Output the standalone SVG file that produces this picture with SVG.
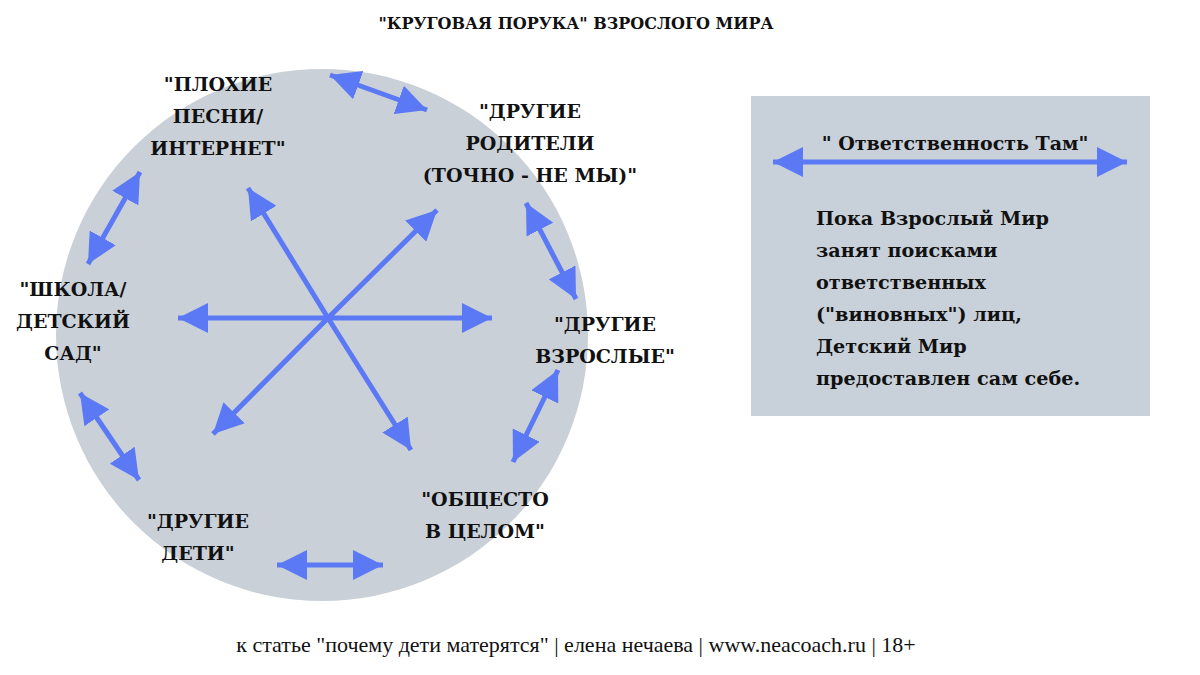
<svg xmlns="http://www.w3.org/2000/svg" width="1200" height="675" viewBox="0 0 1200 675">
<style>
.t{font-family:"DejaVu Serif","Liberation Serif",serif;font-weight:bold;font-size:19px;fill:#111;text-anchor:middle}
.b{font-family:"DejaVu Serif","Liberation Serif",serif;font-weight:bold;font-size:19.2px;fill:#111}
.a{stroke:#5b78f5;stroke-width:5;fill:none;marker-end:url(#h)}
.d{stroke:#5b78f5;stroke-width:5;fill:none;marker-end:url(#h);marker-start:url(#h)}
</style>
<defs>
<marker id="h" markerUnits="userSpaceOnUse" viewBox="0 0 30 30" refX="30" refY="15" markerWidth="30" markerHeight="30" orient="auto-start-reverse">
<path d="M0,0 L30,15 L0,30 Z" fill="#5b78f5"/>
</marker>
</defs>
<rect width="1200" height="675" fill="#fff"/>
<text x="576" y="29" class="t" style="font-size:16px">"КРУГОВАЯ ПОРУКА" ВЗРОСЛОГО МИРА</text>
<g id="circle"><circle cx="322" cy="335" r="266" fill="#c9d0d8"/></g>
<g id="connectors">
<line class="a" x1="328" y1="318" x2="248" y2="188"/>
<line class="a" x1="328" y1="318" x2="437" y2="210"/>
<line class="a" x1="328" y1="318" x2="178" y2="318"/>
<line class="a" x1="328" y1="318" x2="492" y2="318"/>
<line class="a" x1="328" y1="318" x2="213" y2="434"/>
<line class="a" x1="328" y1="318" x2="411" y2="450"/>
<line class="d" x1="330" y1="75" x2="427" y2="110"/>
<line class="d" x1="140" y1="172" x2="88" y2="264"/>
<line class="d" x1="526" y1="203" x2="576" y2="299"/>
<line class="d" x1="558" y1="370" x2="513" y2="462"/>
<line class="d" x1="80" y1="393" x2="139" y2="480"/>
<line class="d" x1="277" y1="565" x2="383" y2="565"/>
</g>
<g id="n1"><text class="t"><tspan x="218" y="91">"ПЛОХИЕ</tspan><tspan x="218" y="123">ПЕСНИ/</tspan><tspan x="218" y="155">ИНТЕРНЕТ"</tspan></text></g>
<g id="n2"><text class="t"><tspan x="530" y="118">"ДРУГИЕ</tspan><tspan x="530" y="150">РОДИТЕЛИ</tspan><tspan x="530" y="182">(ТОЧНО - НЕ МЫ)"</tspan></text></g>
<g id="n3"><text class="t"><tspan x="73" y="296">"ШКОЛА/</tspan><tspan x="73" y="328">ДЕТСКИЙ</tspan><tspan x="73" y="360">САД"</tspan></text></g>
<g id="n4"><text class="t"><tspan x="605" y="331">"ДРУГИЕ</tspan><tspan x="605" y="363">ВЗРОСЛЫЕ"</tspan></text></g>
<g id="n5"><text class="t"><tspan x="485" y="506">"ОБЩЕСТО</tspan><tspan x="485" y="538">В ЦЕЛОМ"</tspan></text></g>
<g id="n6"><text class="t"><tspan x="198" y="528">"ДРУГИЕ</tspan><tspan x="198" y="560">ДЕТИ"</tspan></text></g>
<g id="box">
<rect x="751" y="96" width="399" height="320" fill="#c8d0d9"/>
<line class="d" x1="773" y1="162" x2="1127" y2="162"/>
<text x="955" y="150" class="t">" Ответственность Там"</text>
<text class="b"><tspan x="816" y="225">Пока Взрослый Мир</tspan><tspan x="816" y="257">занят поисками</tspan><tspan x="816" y="289">ответственных</tspan><tspan x="816" y="321">("виновных") лиц,</tspan><tspan x="816" y="353">Детский Мир</tspan><tspan x="816" y="385">предоставлен сам себе.</tspan></text>
</g>
<text x="576" y="652" style="font-family:'Liberation Serif',serif;font-size:22px;fill:#111;text-anchor:middle">к статье "почему дети матерятся" | елена нечаева | www.neacoach.ru | 18+</text>
</svg>
